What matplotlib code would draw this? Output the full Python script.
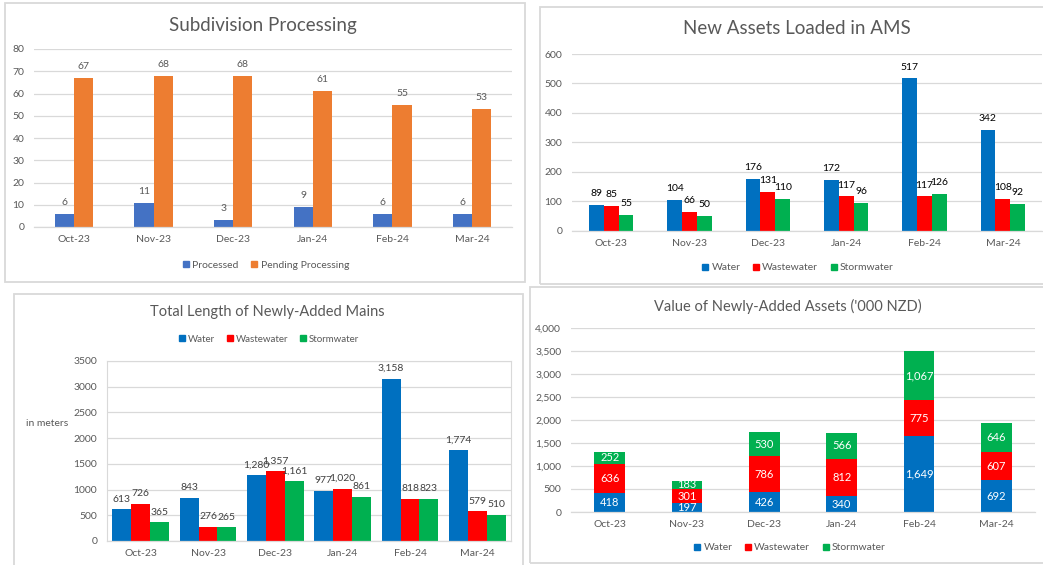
import matplotlib
matplotlib.use("Agg")
import matplotlib.pyplot as plt
from matplotlib.patches import Rectangle, Patch
from matplotlib.ticker import FuncFormatter, MultipleLocator
import numpy as np

plt.rcParams['font.family'] = ['Lato', 'DejaVu Sans']

months = ["Oct-23", "Nov-23", "Dec-23", "Jan-24", "Feb-24", "Mar-24"]

# Panel 1: Subdivision Processing
processed = [6, 11, 3, 9, 6, 6]
pending = [67, 68, 68, 61, 55, 53]

# Panel 2: New Assets Loaded in AMS
ams_water = [89, 104, 176, 172, 517, 342]
ams_waste = [85, 66, 131, 117, 117, 108]
ams_storm = [55, 50, 110, 96, 126, 92]

# Panel 3: Total Length of Newly-Added Mains (meters)
len_water = [613, 843, 1280, 977, 3158, 1774]
len_waste = [726, 276, 1357, 1020, 818, 579]
len_storm = [365, 265, 1161, 861, 823, 510]

# Panel 4: Value of Newly-Added Assets ('000 NZD)
val_water = [418, 197, 426, 340, 1649, 692]
val_waste = [636, 301, 786, 812, 775, 607]
val_storm = [252, 183, 530, 566, 1067, 646]

W, H = 1043, 565
fig = plt.figure(figsize=(W / 100, H / 100), dpi=100)
fig.patch.set_facecolor("white")

GRID = "#D9D9D9"
TXT = "#595959"
C_BLUE1 = "#4472C4"
C_ORANGE = "#ED7D31"
C_WATER = "#0070C0"
C_WASTE = "#FF0000"
C_STORM = "#00B050"


def px_axes(x0, y0, x1, y1):
    return fig.add_axes([x0 / W, 1 - y1 / H, (x1 - x0) / W, (y1 - y0) / H])


def border(x0, y0, x1, y1):
    fig.patches.append(Rectangle((x0 / W, 1 - y1 / H), (x1 - x0) / W, (y1 - y0) / H,
                                 transform=fig.transFigure, fill=False,
                                 edgecolor="#D9D9D9", linewidth=1.3, zorder=0))


def style_axes(ax, ymax, step, fmt=None, box=False):
    ax.set_xlim(-0.5, 5.5)
    ax.set_ylim(0, ymax)
    ax.yaxis.set_major_locator(MultipleLocator(step))
    ax.grid(axis="y", color=GRID, linewidth=0.9, zorder=0)
    ax.set_axisbelow(True)
    ax.set_xticks(range(6))
    ax.set_xticklabels(months)
    ax.tick_params(axis="both", length=0, labelsize=7.5, colors=TXT)
    ax.tick_params(axis="y", pad=7)
    ax.tick_params(axis="x", pad=6)
    for s in ["top", "right", "left"]:
        ax.spines[s].set_visible(box)
        ax.spines[s].set_color(GRID)
    ax.spines["bottom"].set_color(GRID)
    ax.spines["bottom"].set_linewidth(0.9)
    if fmt is not None:
        ax.yaxis.set_major_formatter(FuncFormatter(fmt))


def add_legend(labels, colors, cx, cy, fs=7.5):
    handles = [Patch(facecolor=c, edgecolor=c) for c in colors]
    fig.legend(handles, labels, loc="center", bbox_to_anchor=(cx / W, 1 - cy / H),
               ncol=len(labels), frameon=False, fontsize=fs, handlelength=0.6,
               handleheight=0.6, handletextpad=0.3, columnspacing=1.2,
               labelcolor=TXT)


x = np.arange(6)

# ---------------- Panel 1 ----------------
border(5, 3, 525, 282)
ax1 = px_axes(34, 49, 512, 227)
style_axes(ax1, 80, 10)
bw = 0.24
b1 = ax1.bar(x - bw / 2, processed, bw, color=C_BLUE1, zorder=2)
b2 = ax1.bar(x + bw / 2, pending, bw, color=C_ORANGE, zorder=2)
for bars in (b1, b2):
    ax1.bar_label(bars, padding=5, fontsize=7.5, color=TXT)
fig.text(263 / W, 1 - 25 / H, "Subdivision Processing", ha="center", va="center",
         fontsize=13.5, color=TXT)
add_legend(["Processed", "Pending Processing"], [C_BLUE1, C_ORANGE], 266, 265)

# ---------------- Panel 2 ----------------
border(540, 7, 1050, 284)
ax2 = px_axes(572, 54, 1042, 231)
style_axes(ax2, 600, 100)
bw = 0.19
bars2 = [ax2.bar(x - bw, ams_water, bw, color=C_WATER, zorder=2),
         ax2.bar(x, ams_waste, bw, color=C_WASTE, zorder=2),
         ax2.bar(x + bw, ams_storm, bw, color=C_STORM, zorder=2)]
for bars in bars2:
    ax2.bar_label(bars, padding=5, fontsize=7.5, color="#000000")
fig.text(797 / W, 1 - 29 / H, "New Assets Loaded in AMS", ha="center", va="center",
         fontsize=13.5, color=TXT)
add_legend(["Water", "Wastewater", "Stormwater"], [C_WATER, C_WASTE, C_STORM], 798, 268)

# ---------------- Panel 3 ----------------
border(14, 294, 523, 575)
ax3 = px_axes(107, 361, 511, 541)
style_axes(ax3, 3500, 500, box=True)
bw = 0.28
bars3 = [ax3.bar(x - bw, len_water, bw, color=C_WATER, zorder=2),
         ax3.bar(x, len_waste, bw, color=C_WASTE, zorder=2),
         ax3.bar(x + bw, len_storm, bw, color=C_STORM, zorder=2)]
for bars in bars3:
    ax3.bar_label(bars, labels=[f"{v:,}" for v in bars.datavalues], padding=4,
                  fontsize=7.5, color="#404040")
fig.text(267 / W, 1 - 312 / H, "Total Length of Newly-Added Mains", ha="center",
         va="center", fontsize=10.5, color=TXT)
add_legend(["Water", "Wastewater", "Stormwater"], [C_WATER, C_WASTE, C_STORM], 269, 339, fs=7)
fig.text(47 / W, 1 - 424 / H, "in meters", ha="center", va="center", fontsize=7.5, color=TXT)

# ---------------- Panel 4 ----------------
border(530, 287, 1050, 563)
ax4 = px_axes(571, 328, 1035, 512)
style_axes(ax4, 4000, 500, fmt=lambda v, p: f"{int(v):,}")
bw = 0.40
s1 = ax4.bar(x, val_water, bw, color=C_WATER, zorder=2)
s2 = ax4.bar(x, val_waste, bw, bottom=val_water, color=C_WASTE, zorder=2)
bottom3 = np.array(val_water) + np.array(val_waste)
s3 = ax4.bar(x, val_storm, bw, bottom=bottom3, color=C_STORM, zorder=2)
for bars in (s1, s2, s3):
    ax4.bar_label(bars, labels=[f"{v:,}" for v in bars.datavalues], label_type="center",
                  fontsize=8, color="white")
fig.text(788 / W, 1 - 306 / H, "Value of Newly-Added Assets ('000 NZD)", ha="center",
         va="center", fontsize=10.5, color=TXT)
add_legend(["Water", "Wastewater", "Stormwater"], [C_WATER, C_WASTE, C_STORM], 790, 548)

fig.savefig("out.png", dpi=100, facecolor="white")
